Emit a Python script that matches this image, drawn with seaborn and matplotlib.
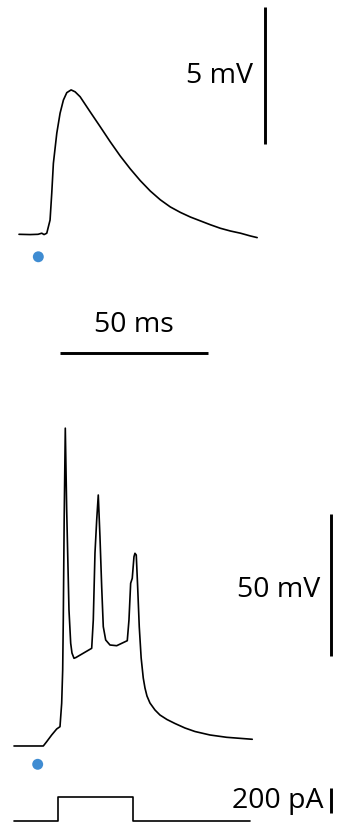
import numpy as np
import pandas as pd
import matplotlib
matplotlib.use("Agg")
import matplotlib.pyplot as plt
import seaborn as sns

# ---------------- data ----------------
# Top: subthreshold EPSP (time in ms, voltage relative to baseline in mV)
epsp_t = [0.0, 3.72, 6.42, 7.67, 8.45, 9.36, 10.47, 11.04, 11.59, 12.74, 13.85, 14.97,
          16.11, 17.57, 18.92, 20.61, 23.99, 27.36, 30.74, 34.12, 37.50, 40.88,
          44.26, 47.64, 51.00, 54.40, 57.80, 61.15, 64.50, 67.90, 71.30, 74.70,
          78.00, 80.30]
epsp_v = [0.0, -0.01, 0.0, 0.04, -0.01, 0.04, 0.52, 1.50, 2.59, 3.69, 4.42, 4.90,
          5.17, 5.27, 5.20, 5.02, 4.47, 3.93, 3.38, 2.86, 2.39, 1.96,
          1.58, 1.26, 1.00, 0.80, 0.63, 0.49, 0.35, 0.22, 0.12, 0.04,
          -0.06, -0.12]

# Bottom: spike burst (time in ms, membrane potential in mV)
ap_t = [0.0, 9.88, 11.02, 12.71, 14.40, 15.51, 16.08, 16.42, 16.62, 16.92, 17.30,
        17.77, 18.54, 19.12, 19.55, 20.23, 20.90, 26.20, 26.74, 27.31, 27.89, 28.42,
        28.99, 29.57, 30.11, 30.92, 32.37, 34.63, 38.20, 38.77, 39.34, 39.88, 40.46,
        40.79, 41.23, 41.70, 42.24, 42.88, 43.59, 44.17, 44.84, 45.85, 47.54, 49.22,
        51.58, 54.28, 57.65, 61.02, 66.08, 71.71, 80.34]
ap_v = [-70.0, -70.0, -68.48, -66.11, -63.99, -63.18, -54.91, -43.14, -25.48, 9.86, 42.3,
        13.39, -21.94, -33.71, -37.14, -39.01, -38.73, -35.48, -25.48, -1.80, 9.86, 18.69,
        3.96, -13.71, -27.84, -32.54, -34.31, -34.56, -32.79, -25.48, -12.51, -10.74, -3.11,
        -1.91, -2.51, -13.71, -27.84, -38.87, -45.97, -49.51, -52.33, -54.81, -57.28, -59.05,
        -60.64, -62.05, -63.64, -64.88, -66.11, -66.93, -67.63]

# Injected current step (ms, pA)
cur_t = [0.0, 14.94, 14.94, 40.22, 40.22, 79.57]
cur_i = [0, 0, 190, 190, 0, 0]

# Stimulus markers (blue dots)
stim_top = (6.51, -0.82)
stim_bot = (7.99, -76.47)

# Scale bars
sb_time_ms = 50
sb_epsp_mv = 5
sb_ap_mv = 50
sb_cur_pa = 200

# ---------------- style ----------------
sns.set_style("white")
plt.rcParams["font.family"] = ["Open Sans", "DejaVu Sans"]
plt.rcParams["text.color"] = "black"
FS = 20.5
BLUE = "#3F8CD2"
LW = 1.2
SBW = 2.1

W, H = 339, 825
fig = plt.figure(figsize=(W / 100, H / 100), dpi=100)

# top axes: rows 0..400 px
ax1 = fig.add_axes([0, 1 - 400 / H, 1, 400 / H])
# bottom axes: rows 400..825 px
ax2 = fig.add_axes([0, 0, 1, 425 / H])
# current axes: rows 770..825 px
ax3 = fig.add_axes([0, 0, 1, 55 / H])
for a in (ax1, ax2, ax3):
    a.set_axis_off()
    a.patch.set_alpha(0)

# ---- top panel ----
df1 = pd.DataFrame({"t": epsp_t, "v": epsp_v})
sns.lineplot(data=df1, x="t", y="v", ax=ax1, color="black", lw=LW,
             sort=False, estimator=None)
sns.scatterplot(x=[stim_top[0]], y=[stim_top[1]], ax=ax1, color=BLUE, s=62,
                edgecolor="none")
ax1.set_xlim(-6.41, 107.9)
ax1.set_ylim(-6.047, 8.551)
# 5 mV bar
ax1.plot([82.94, 82.94], [3.285, 3.285 + sb_epsp_mv], color="black", lw=SBW,
         solid_capstyle="butt")
ax1.text(78.9, 5.52, f"{sb_epsp_mv} mV", ha="right", va="baseline", fontsize=FS,
         color="black")
# 50 ms bar
ax1.plot([13.82, 13.82 + sb_time_ms], [-4.343, -4.343], color="black", lw=SBW,
         solid_capstyle="butt")
ax1.text(13.82 + sb_time_ms / 2, -3.57, f"{sb_time_ms} ms", ha="center",
         va="baseline", fontsize=FS, color="black")

# ---- bottom panel ----
df2 = pd.DataFrame({"t": ap_t, "v": ap_v})
sns.lineplot(data=df2, x="t", y="v", ax=ax2, color="black", lw=LW,
             sort=False, estimator=None)
sns.scatterplot(x=[stim_bot[0]], y=[stim_bot[1]], ax=ax2, color=BLUE, s=62,
                edgecolor="none")
ax2.set_xlim(-4.72, 109.6)
ax2.set_ylim(-97.92, 52.26)
ax2.plot([106.9, 106.9], [-38.2, -38.2 + sb_ap_mv], color="black", lw=SBW,
         solid_capstyle="butt")
ax2.text(103.2, -17.24, f"{sb_ap_mv} mV", ha="right", va="baseline", fontsize=FS,
         color="black")

# ---- current ----
df3 = pd.DataFrame({"t": cur_t, "i": cur_i})
sns.lineplot(data=df3, x="t", y="i", ax=ax3, color="black", lw=LW,
             sort=False, estimator=None)
ax3.set_xlim(-4.72, 109.6)
ax3.set_ylim(-34.4, 405.6)
ax3.plot([106.8, 106.8], [59.2, 59.2 + sb_cur_pa], color="black", lw=SBW,
         solid_capstyle="butt", clip_on=False)
ax3.text(104.3, 99.2, f"{sb_cur_pa} pA", ha="right", va="baseline", fontsize=FS,
         color="black", clip_on=False)

fig.savefig("out.png", dpi=100)
